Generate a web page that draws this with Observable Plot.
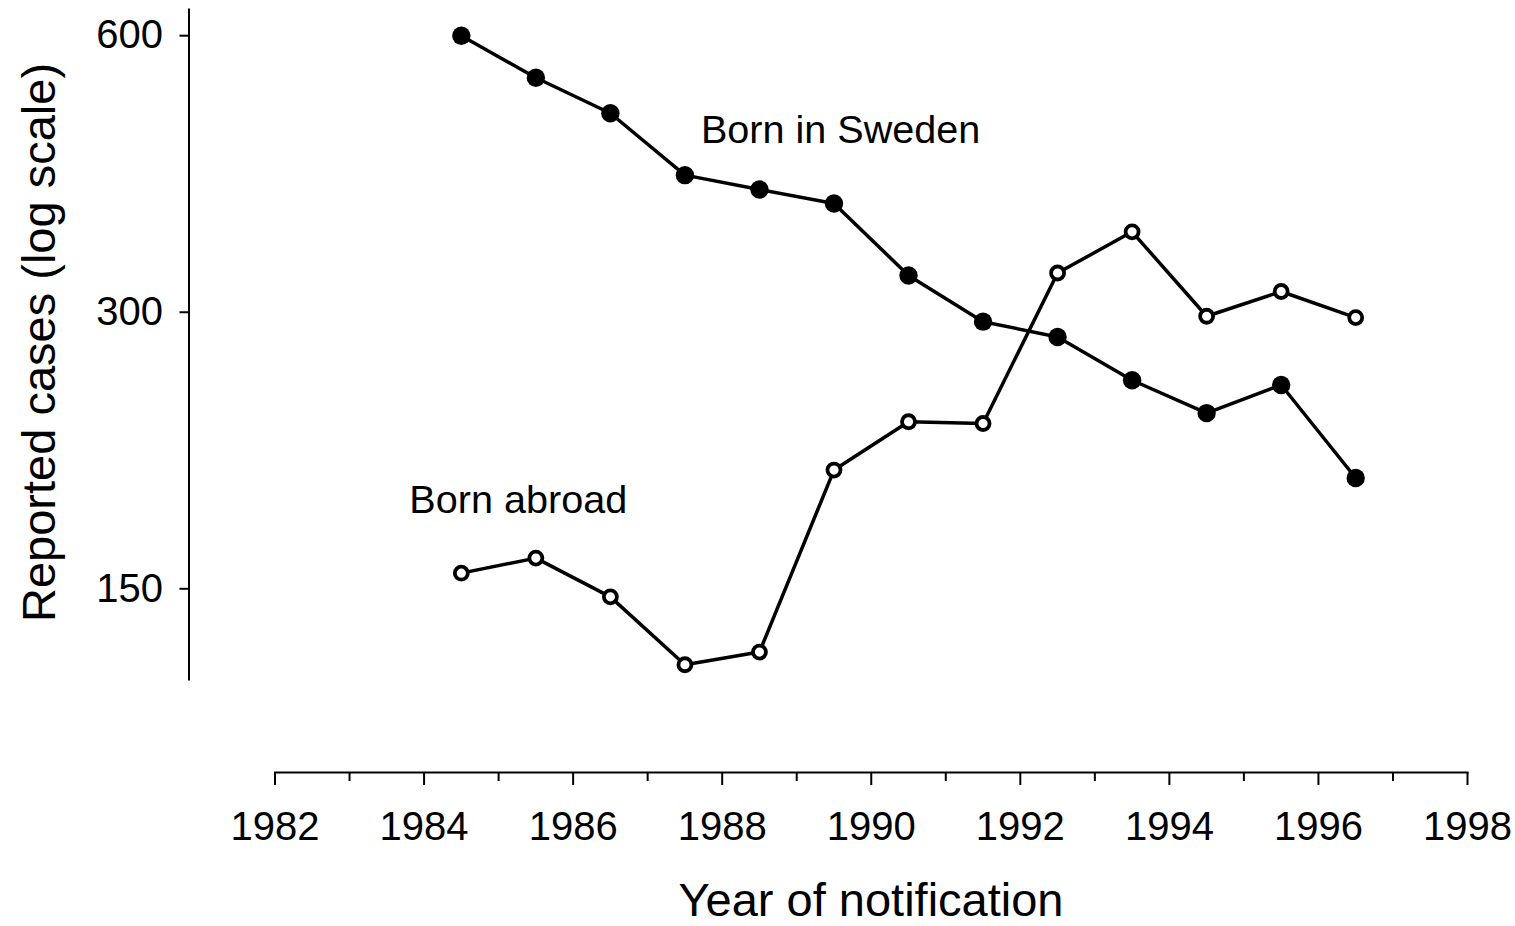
<!DOCTYPE html>
<html>
<head>
<meta charset="utf-8">
<script src="https://cdn.jsdelivr.net/npm/d3@7"></script>
<script src="https://cdn.jsdelivr.net/npm/@observablehq/plot@0.6"></script>
<style>
  html, body { margin: 0; padding: 0; background: #fff; }
  svg { display: block; }
</style>
</head>
<body>
<div id="chart"></div>
<script>
// ---- data ----
const years = [1984.5, 1985.5, 1986.5, 1987.5, 1988.5, 1989.5, 1990.5, 1991.5, 1992.5, 1993.5, 1994.5, 1995.5, 1996.5];
const bornInSweden = [600, 540, 494, 423, 408, 394, 329, 293, 282, 253, 233, 250, 198];
const bornAbroad   = [156, 162, 147, 124, 128, 202, 228, 227, 331, 367, 297, 316, 296];
const yTicks = [150, 300, 600];
const xMajorTicks = [1982, 1984, 1986, 1988, 1990, 1992, 1994, 1996, 1998];
const xMinorTicks = [1983, 1985, 1987, 1989, 1991, 1993, 1995, 1997];
const seriesNames = ["Born in Sweden", "Born abroad"];
const xTitle = "Year of notification";
const yTitle = "Reported cases (log scale)";

const sweden = years.map((year, i) => ({year, cases: bornInSweden[i], group: seriesNames[0]}));
const abroad = years.map((year, i) => ({year, cases: bornAbroad[i], group: seriesNames[1]}));
const rows = sweden.concat(abroad);

const FONT = "'Liberation Sans', Arial, Helvetica, sans-serif";

const chart = Plot.plot({
  width: 1515,
  height: 926,
  marginTop: 9,
  marginLeft: 188.5,
  marginRight: 48,
  marginBottom: 154,
  style: {fontFamily: FONT, color: "#000", background: "#fff", overflow: "visible"},
  x: {domain: [1982, 1998], insetLeft: 86, insetRight: 0, axis: null},
  y: {type: "log", domain: [119.5, 640.7], insetBottom: 93, axis: null},
  marks: [
    // axis lines
    Plot.frame({anchor: "left", insetBottom: 93, stroke: "#000", strokeWidth: 2}),
    Plot.frame({anchor: "bottom", insetLeft: 86, stroke: "#000", strokeWidth: 2}),
    // y axis
    Plot.axisY(yTicks, {tickSize: 9, tickPadding: 17, fontSize: 40, strokeWidth: 2, tickFormat: d => String(d), label: null}),
    // x axis minor and major ticks
    Plot.axisX(xMinorTicks, {tickSize: 9, strokeWidth: 2, tickFormat: () => "", label: null}),
    Plot.axisX(xMajorTicks, {tickSize: 13, tickPadding: 26, fontSize: 40, strokeWidth: 2, tickFormat: d => String(d), label: null}),
    // series lines
    Plot.line(rows, {x: "year", y: "cases", z: "group", stroke: "#000", strokeWidth: 3.5}),
    // markers
    Plot.dot(sweden, {x: "year", y: "cases", r: 9.2, fill: "#000", stroke: null}),
    Plot.dot(abroad, {x: "year", y: "cases", r: 6.5, fill: "#fff", stroke: "#000", strokeWidth: 3.8}),
    // series annotations
    Plot.text([sweden[3]], {x: "year", y: "cases", text: () => seriesNames[0], textAnchor: "start", lineAnchor: "bottom", dx: 16, dy: -32, fontSize: 39.6, fill: "#000"}),
    Plot.text([abroad[0]], {x: "year", y: "cases", text: () => seriesNames[1], textAnchor: "start", lineAnchor: "bottom", dx: -52, dy: -60, fontSize: 39.6, fill: "#000"}),
    // axis titles
    Plot.text([xTitle], {frameAnchor: "bottom", text: d => d, lineAnchor: "bottom", textAnchor: "middle", dx: 42.75, dy: 143, fontSize: 47, fill: "#000"}),
    Plot.text([yTitle], {frameAnchor: "left", text: d => d, rotate: -90, lineAnchor: "middle", textAnchor: "middle", dx: -149, dy: -48.5, fontSize: 47, fill: "#000"})
  ]
});
document.getElementById("chart").appendChild(chart);
</script>
</body>
</html>
